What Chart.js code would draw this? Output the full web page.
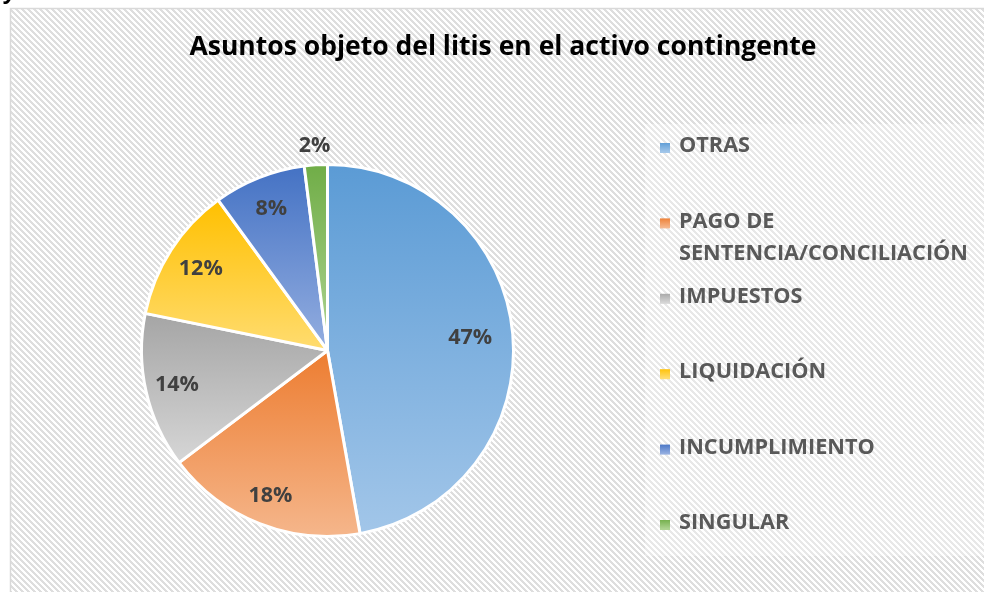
<!DOCTYPE html>
<html>
<head>
<meta charset="utf-8">
<script src="https://cdn.jsdelivr.net/npm/chart.js@4.4.1/dist/chart.umd.min.js"></script>
<style>
html,body{margin:0;padding:0;background:#fff;}
#wrap{position:relative;width:984px;height:592px;}
canvas{display:block;}
</style>
</head>
<body>
<div id="wrap"><canvas id="c" width="984" height="592"></canvas></div>
<script>
// ---- Data ----
const chartTitle = 'Asuntos objeto del litis en el activo contingente';
const categories = ['OTRAS', 'PAGO DE SENTENCIA/CONCILIACIÓN', 'IMPUESTOS', 'LIQUIDACIÓN', 'INCUMPLIMIENTO', 'SINGULAR'];
const legendLines = [['OTRAS'], ['PAGO DE', 'SENTENCIA/CONCILIACIÓN'], ['IMPUESTOS'], ['LIQUIDACIÓN'], ['INCUMPLIMIENTO'], ['SINGULAR']];
const percentValues = [47.2, 17.5, 13.5, 11.8, 8.0, 2.0];

// ---- Styles ----
const topColors    = ['#5b9bd5', '#ed7d31', '#a5a5a5', '#ffc000', '#4472c4', '#70ad47'];
const bottomColors = ['#a2c6e9', '#f5b68b', '#d6d6d6', '#ffdc70', '#94aee0', '#aed492'];
const labelRadiusFactor = [0.77, 0.84, 0.83, 0.81, 0.82, 1.10];
const FONT = '"Open Sans", "DejaVu Sans", sans-serif';

function makePattern(ctx) {
  const p = document.createElement('canvas');
  p.width = 6; p.height = 6;
  const pc = p.getContext('2d');
  pc.fillStyle = '#ffffff';
  pc.fillRect(0, 0, 6, 6);
  pc.fillStyle = '#dedede';
  for (let x = 0; x < 6; x++) for (let y = 0; y < 6; y++) {
    if (((x - y) % 6 + 6) % 6 < 3) pc.fillRect(x, y, 1, 1);
  }
  return ctx.createPattern(p, 'repeat');
}

const backgroundPlugin = {
  id: 'bg',
  beforeDraw(chart) {
    const ctx = chart.ctx;
    ctx.save();
    ctx.fillStyle = '#ffffff';
    ctx.fillRect(0, 0, chart.width, chart.height);
    ctx.fillStyle = makePattern(ctx);
    ctx.fillRect(11, 9, chart.width - 11, chart.height - 9);
    // legend area lighter box
    ctx.fillStyle = 'rgba(255,255,255,0.3)';
    ctx.fillRect(645, 124, chart.width - 645, 432);
    // frame
    ctx.strokeStyle = '#d9d9d9';
    ctx.lineWidth = 1.5;
    ctx.beginPath();
    ctx.moveTo(10.5, chart.height);
    ctx.lineTo(10.5, 8.5);
    ctx.lineTo(chart.width, 8.5);
    ctx.stroke();
    // cut-off glyph from surrounding page
    ctx.fillStyle = '#000';
    ctx.font = 'bold italic 22px ' + FONT;
    ctx.textBaseline = 'alphabetic';
    ctx.fillText('y', 5, -1);
    // title
    ctx.fillStyle = '#000000';
    ctx.font = 'bold 26.5px ' + FONT;
    ctx.textAlign = 'center';
    ctx.textBaseline = 'middle';
    ctx.fillText(chartTitle, 503, 47);
    ctx.restore();
  }
};

const gradientPlugin = {
  id: 'sliceGradient',
  beforeDatasetsDraw(chart) {
    const ctx = chart.ctx;
    const meta = chart.getDatasetMeta(0);
    meta.data.forEach((arc, i) => {
      const p = arc.getProps(['x', 'y', 'startAngle', 'endAngle', 'outerRadius'], true);
      const ys = [p.y, p.y + p.outerRadius * Math.sin(p.startAngle), p.y + p.outerRadius * Math.sin(p.endAngle)];
      for (const a of [-Math.PI / 2, Math.PI / 2, 3 * Math.PI / 2]) {
        if (a >= p.startAngle && a <= p.endAngle) ys.push(p.y + p.outerRadius * Math.sin(a));
      }
      const top = Math.min(...ys), bot = Math.max(...ys);
      const g = ctx.createLinearGradient(0, top, 0, bot);
      g.addColorStop(0, topColors[i]);
      g.addColorStop(1, bottomColors[i]);
      arc.options.backgroundColor = g;
    });
  }
};

const labelPlugin = {
  id: 'sliceLabels',
  afterDatasetsDraw(chart) {
    const ctx = chart.ctx;
    const meta = chart.getDatasetMeta(0);
    const vals = chart.data.datasets[0].data;
    ctx.save();
    ctx.font = 'bold 21.5px ' + FONT;
    ctx.fillStyle = '#404040';
    ctx.textAlign = 'center';
    ctx.textBaseline = 'middle';
    meta.data.forEach((arc, i) => {
      const p = arc.getProps(['x', 'y', 'startAngle', 'endAngle', 'outerRadius'], true);
      const mid = (p.startAngle + p.endAngle) / 2;
      const r = p.outerRadius * labelRadiusFactor[i];
      ctx.fillText(Math.round(vals[i]) + '%', p.x + r * Math.cos(mid), p.y + r * Math.sin(mid));
    });
    ctx.restore();
  }
};

const legendPlugin = {
  id: 'customLegend',
  afterDraw(chart) {
    const ctx = chart.ctx;
    ctx.save();
    ctx.font = 'bold 21.7px ' + FONT;
    ctx.textAlign = 'left';
    ctx.textBaseline = 'middle';
    const startY = 146, step = 75.4, lineH = 32;
    legendLines.forEach((lines, i) => {
      const y = startY + i * step;
      const g = ctx.createLinearGradient(0, y - 4, 0, y + 6);
      g.addColorStop(0, topColors[i]);
      g.addColorStop(1, bottomColors[i]);
      ctx.fillStyle = g;
      ctx.fillRect(660, y - 3, 10, 10);
      ctx.fillStyle = '#595959';
      lines.forEach((t, k) => ctx.fillText(t, 679, y + k * lineH));
    });
    ctx.restore();
  }
};

new Chart(document.getElementById('c'), {
  type: 'pie',
  data: {
    labels: categories,
    datasets: [{
      data: percentValues,
      backgroundColor: topColors,
      borderColor: '#ffffff',
      borderWidth: 3,
      radius: 186
    }]
  },
  options: {
    responsive: false,
    animation: false,
    events: [],
    layout: { padding: { left: 141, right: 470, top: 164, bottom: 55 } },
    plugins: {
      legend: { display: false },
      title: { display: false },
      tooltip: { enabled: false }
    }
  },
  plugins: [backgroundPlugin, gradientPlugin, labelPlugin, legendPlugin]
});
</script>
</body>
</html>
